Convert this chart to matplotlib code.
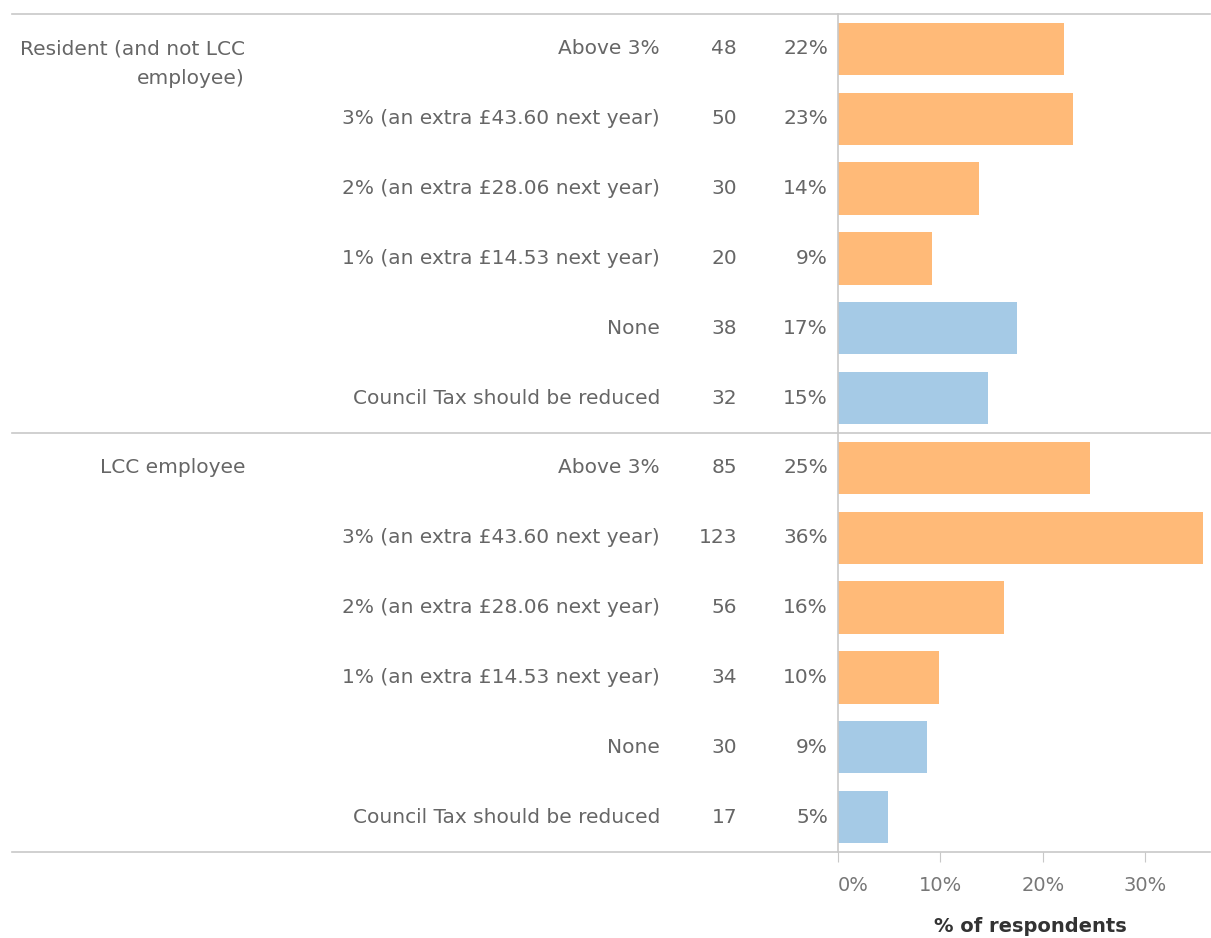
import numpy as np
import matplotlib.pyplot as plt
import matplotlib.transforms as mtransforms
from matplotlib.lines import Line2D

groups = ["Resident (and not LCC\nemployee)", "LCC employee"]
options = ["Above 3%", "3% (an extra £43.60 next year)", "2% (an extra £28.06 next year)",
           "1% (an extra £14.53 next year)", "None", "Council Tax should be reduced"]
resident_counts = [48, 50, 30, 20, 38, 32]
employee_counts = [85, 123, 56, 34, 30, 17]
increase_flag = [True, True, True, True, False, False]
xticks = [0, 10, 20, 30]
xtick_labels = ["0%", "10%", "20%", "30%"]

orange = "#FFBA78"
blue = "#A5CAE6"
txt = "#666666"
linec = "#C8C8C8"
fs = 14.5

plt.rcParams['font.family'] = ['DejaVu Sans']

W, H = 1211, 938
fig = plt.figure(figsize=(W / 100, H / 100), dpi=100)
ax = fig.add_axes([838 / W, (H - 852) / H, (1210 - 838) / W, (852 - 14) / H])
trans = mtransforms.blended_transform_factory(fig.transFigure, ax.transData)

all_counts = [resident_counts, employee_counts]
row = 0
for g, counts in enumerate(all_counts):
    total = sum(counts)
    for i, c in enumerate(counts):
        pct = c / total * 100
        ax.barh(row, pct, height=0.75, color=orange if increase_flag[i] else blue)
        ax.text(660 / W, row, options[i], transform=trans, ha="right", va="center",
                fontsize=fs, color=txt)
        ax.text(737 / W, row, str(c), transform=trans, ha="right", va="center",
                fontsize=fs, color=txt)
        ax.text(828 / W, row, f"{pct:.0f}%", transform=trans, ha="right", va="center",
                fontsize=fs, color=txt)
        row += 1

ax.text(245 / W, -0.14, groups[0], transform=trans, ha="right", va="top",
        fontsize=fs, color=txt, multialignment="right", linespacing=1.75)
ax.text(245 / W, 5.86, groups[1], transform=trans, ha="right", va="top",
        fontsize=fs, color=txt)

for y in [-0.5, 5.5, 11.5]:
    fig.add_artist(Line2D([12 / W, 1210 / W], [y, y], transform=trans, color=linec, lw=1.2,
                          clip_on=False))

ax.set_ylim(11.5, -0.5)
ax.set_xlim(0, 36.3)
ax.set_yticks([])
for s in ["top", "right", "bottom"]:
    ax.spines[s].set_visible(False)
ax.spines["left"].set_color(linec)
ax.spines["left"].set_linewidth(1.2)
ax.set_xticks(xticks)
ax.set_xticklabels(xtick_labels)
ax.tick_params(axis="x", colors=linec, labelcolor="#777777", labelsize=14, length=7, pad=10)
ax.get_xticklabels()[0].set_horizontalalignment("left")
ax.set_xlabel("% of respondents", fontsize=14, color="#333333", fontweight="bold")
ax.xaxis.set_label_coords((1030 - 838) / (1210 - 838), -0.078)

fig.savefig("out.png", dpi=100)
